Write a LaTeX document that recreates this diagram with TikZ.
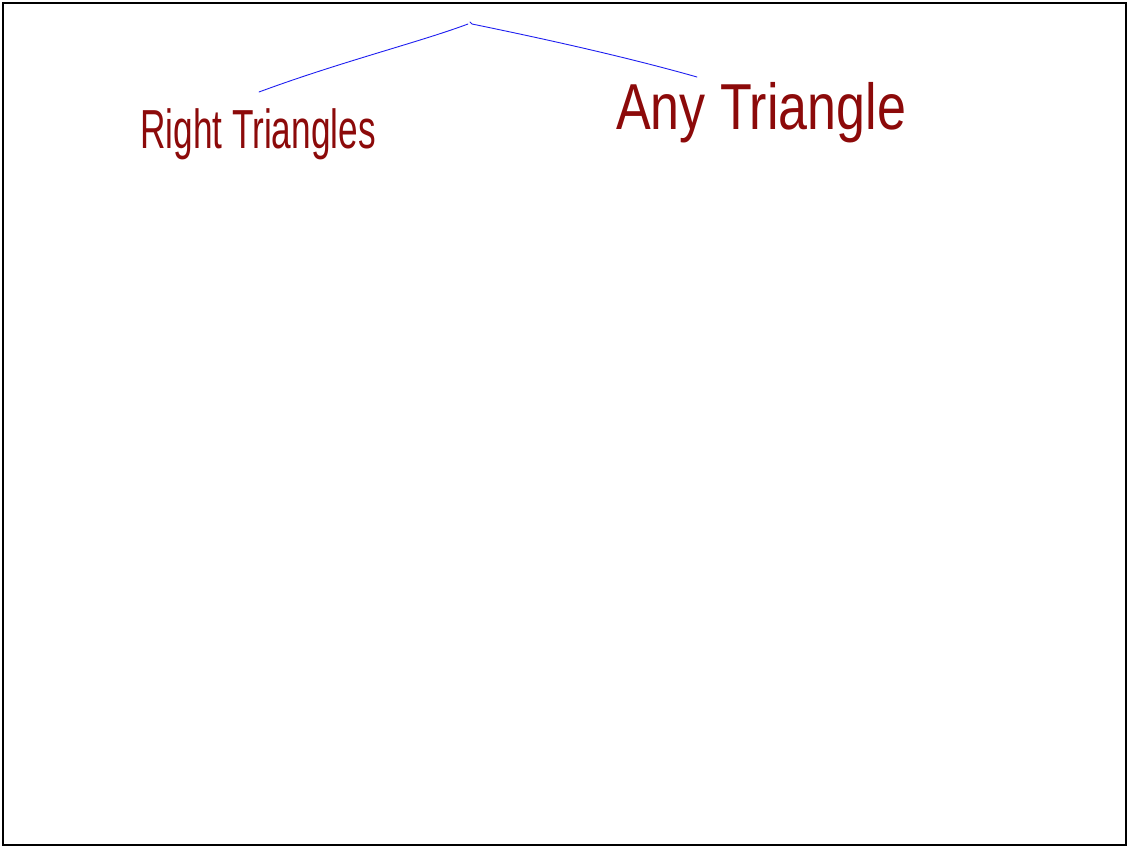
\documentclass[tikz,border=0pt]{standalone}
\usepackage{fontspec}
\setmainfont{Liberation Sans}
\definecolor{ink}{RGB}{140,10,10}
\definecolor{pen}{RGB}{30,30,240}
\tikzset{
  hand/.style={text=ink, inner sep=0pt, anchor=base},
  penline/.style={draw=pen, line width=0.9pt, line cap=round, line join=round},
}
\begin{document}
\begin{tikzpicture}[x=1pt,y=-1pt]
\useasboundingbox (0,0) rectangle (1128,847);
\draw[line width=2pt] (3,3) rectangle (1126,845);
\coordinate (top) at (468,24);
\coordinate (topR) at (470,22);
\node[hand, font=\fontsize{55}{60}\selectfont, xscale=0.64] (rt) at (258,148) {Right Triangles};
\node[hand, font=\fontsize{65}{70}\selectfont, xscale=0.80] (at) at (761,129) {Any Triangle};
\coordinate (rtend) at (259,92);
\coordinate (atend) at (697,77);
\draw[penline] (top) .. controls (420,42) and (340,62) .. (rtend);
\draw[penline] (topR) -- (472,24) .. controls (550,40) and (630,58) .. (atend);
\end{tikzpicture}
\end{document}
